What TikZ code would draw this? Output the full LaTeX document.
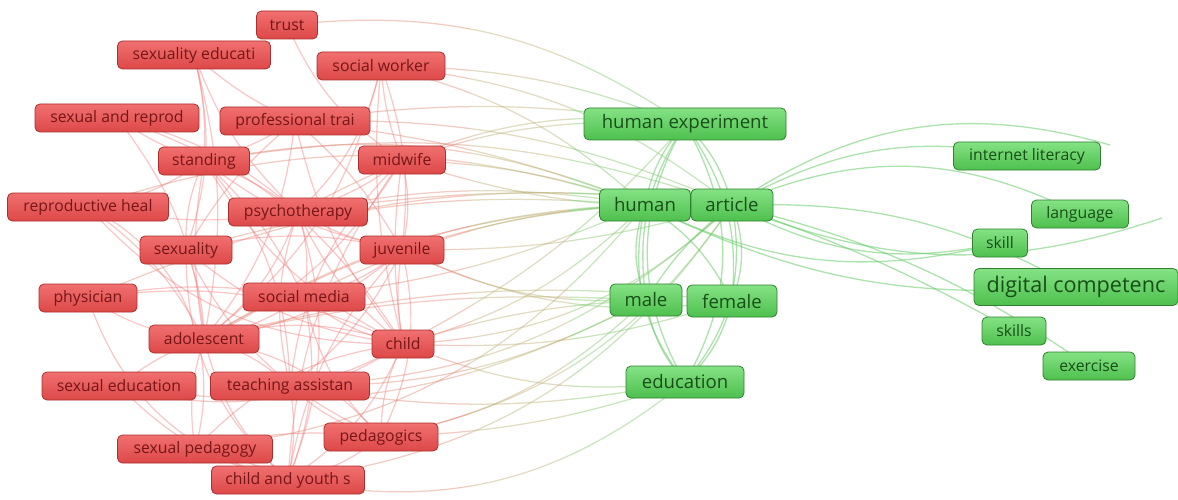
\documentclass[tikz,border=0pt]{standalone}
\usepackage{fontspec}
\setmainfont{Open Sans}
\usetikzlibrary{backgrounds}
\definecolor{redt}{RGB}{241,112,112}
\definecolor{redbo}{RGB}{221,72,72}
\definecolor{redb}{RGB}{172,46,46}
\definecolor{redtx}{RGB}{118,22,22}
\definecolor{grt}{RGB}{132,226,132}
\definecolor{grbo}{RGB}{78,192,78}
\definecolor{grb}{RGB}{48,128,48}
\definecolor{grtx}{RGB}{24,78,24}
\definecolor{rec}{RGB}{245,120,120}
\definecolor{gec}{RGB}{105,205,105}
\definecolor{mrc}{RGB}{222,135,112}
\definecolor{mmc}{RGB}{188,172,112}
\definecolor{mgc}{RGB}{135,200,112}
\tikzset{
  nbase/.style={line width=0.8pt, rounded corners=5pt, inner sep=0pt},
  rn/.style={nbase, draw=redb, top color=redt, bottom color=redbo, text=redtx,
     minimum height=28pt, font=\fontsize{15.8}{16}\selectfont},
  gn/.style={nbase, draw=grb, top color=grt, bottom color=grbo, text=grtx,
     minimum height=32pt, font=\fontsize{18.6}{19}\selectfont},
  gs/.style={nbase, draw=grb, top color=grt, bottom color=grbo, text=grtx,
     minimum height=28pt, font=\fontsize{15.8}{16}\selectfont},
  gb/.style={nbase, draw=grb, top color=grt, bottom color=grbo, text=grtx,
     minimum height=37pt, font=\fontsize{21.6}{22}\selectfont},
  re/.style={draw=rec, opacity=0.42, line width=1.2pt},
  ge/.style={draw=gec, opacity=0.55, line width=1.3pt},
  mre/.style={draw=mrc, opacity=0.42, line width=1.25pt},
  mme/.style={draw=mmc, opacity=0.42, line width=1.25pt},
  mge/.style={draw=mgc, opacity=0.45, line width=1.25pt},
}
\newcommand{\mixedges}[1]{%
\foreach \a/\b/\c in {trust/hexp/20, socw/hexp/10, socw/human/14, socw/article/16,
  proft/hexp/8, proft/article/12, proft/human/7, midw/human/8, midw/article/-10, midw/hexp/14,
  psych/human/10, psych/article/7, psych/hexp/16, stand/article/14, stand/human/16, sexu/human/10,
  juv/human/7, juv/article/-8, juv/male/-14, juv/female/-16, socm/article/14, socm/human/-8,
  adol/human/14, adol/article/16, adol/male/8, adol/female/10,
  child/human/-14, child/article/-20, child/male/7, child/female/-10, child/educ/-14, child/hexp/-10,
  teach/article/-20, teach/educ/-10, teach/male/-14, ped/article/-22, ped/male/-16, ped/educ/-8,
  cys/educ/-25, cys/article/-24, sexped/human/-22, sexedu/male/-18, rephe/human/18, phys/article/15}
  \draw[#1] (\a.center) to[bend left=\c] (\b.center);}
\begin{document}
\begin{tikzpicture}[x=1pt,y=-1pt]
\useasboundingbox (0,0) rectangle (1178,500);
% red cluster
\node[rn, minimum width=61pt] (trust) at (287,25) {trust};
\node[rn, minimum width=153pt] (sexed) at (194,55) {sexuality educati};
\node[rn, minimum width=128pt] (socw) at (381,66) {social worker};
\node[rn, minimum width=164pt] (sexrep) at (117,118) {sexual and reprod};
\node[rn, minimum width=150pt] (proft) at (295,121) {professional trai};
\node[rn, minimum width=91pt] (stand) at (204,161) {standing};
\node[rn, minimum width=87pt] (midw) at (402,160) {midwife};
\node[rn, minimum width=161pt] (rephe) at (88,207) {reproductive heal};
\node[rn, minimum width=139pt] (psych) at (298,212) {psychotherapy};
\node[rn, minimum width=92pt] (sexu) at (186,250) {sexuality};
\node[rn, minimum width=84pt] (juv) at (402,250) {juvenile};
\node[rn, minimum width=98pt] (phys) at (88,298) {physician};
\node[rn, minimum width=122pt] (socm) at (304,297) {social media};
\node[rn, minimum width=110pt] (adol) at (204,339) {adolescent};
\node[rn, minimum width=62pt] (child) at (403,344) {child};
\node[rn, minimum width=154pt] (sexedu) at (119,386) {sexual education};
\node[rn, minimum width=159pt] (teach) at (290,386) {teaching assistan};
\node[rn, minimum width=114pt] (ped) at (381,437) {pedagogics};
\node[rn, minimum width=155pt] (sexped) at (195,449) {sexual pedagogy};
\node[rn, minimum width=153pt] (cys) at (288,480) {child and youth s};
% green cluster
\node[gn, minimum width=202pt] (hexp) at (685,124) {human experiment};
\node[gn, minimum width=91pt] (human) at (645,205) {human};
\node[gn, minimum width=82pt] (article) at (732,205) {article};
\node[gn, minimum width=72pt] (male) at (646,300) {male};
\node[gn, minimum width=90pt] (female) at (732,301) {female};
\node[gn, minimum width=118pt] (educ) at (685,382) {education};
\node[gs, minimum width=147pt] (inet) at (1027,156) {internet literacy};
\node[gs, minimum width=97pt] (lang) at (1080,214) {language};
\node[gs, minimum width=55pt] (skill) at (1000,243) {skill};
\node[gb, minimum width=204pt] (digc) at (1076,287) {digital competenc};
\node[gs, minimum width=64pt] (skills) at (1014,331) {skills};
\node[gs, minimum width=92pt] (exer) at (1089,366) {exercise};
\coordinate (f1) at (1110,145);
\coordinate (f2) at (1162,218);
\begin{scope}[on background layer]
\fill[white] (0,0) rectangle (1178,500);
% red edges
\foreach \a/\b/\c in {trust/midw/-10, sexed/stand/5, sexed/proft/-5, sexed/psych/-8, sexed/sexu/10, sexed/adol/8,
  socw/midw/-5, socw/juv/8, socw/child/-6, socw/psych/10, socw/adol/12,
  sexrep/stand/-5, sexrep/psych/8, sexrep/adol/10, sexrep/child/12,
  proft/stand/5, proft/child/-8, proft/juv/6, proft/adol/10, proft/sexu/-6,
  stand/rephe/8, stand/adol/-6, stand/psych/5, stand/juv/-8, stand/child/-10, stand/socm/6, stand/sexu/-8, stand/teach/12,
  midw/child/-5, midw/juv/8, midw/adol/10, midw/teach/-12, midw/psych/6, midw/cys/-10,
  rephe/psych/-6, rephe/adol/8, rephe/child/-15, rephe/sexped/25,
  psych/child/-8, psych/adol/10, psych/juv/-6, psych/cys/12, psych/teach/-10, psych/socm/8,
  sexu/adol/6, sexu/child/-10, sexu/juv/8, sexu/cys/-15, sexu/ped/-12,
  juv/adol/10, juv/child/-6, juv/socm/8, juv/ped/12, juv/cys/-10, juv/teach/8,
  phys/adol/-8, phys/child/10, phys/cys/-18, phys/socm/6,
  socm/adol/6, socm/child/-8, socm/cys/10, socm/ped/-10,
  adol/child/10, adol/sexedu/-6, adol/teach/8, adol/cys/-10, adol/ped/12, adol/sexped/-8,
  child/teach/6, child/ped/-8, child/cys/10, child/sexped/-12, child/sexedu/15,
  sexedu/cys/-10, teach/cys/6, teach/ped/-8, ped/cys/8, ped/sexped/-6, sexped/cys/5}
  {\pgfmathsetmacro\d{1.6*\c}
  \draw[re] (\a.center) to[bend left=\d] (\b.center);}
% mixed edges: reddish near the red cluster, greenish near the green one
\begin{scope}
  \clip (0,0) rectangle (470,500);
  \mixedges{mre}
\end{scope}
\begin{scope}
  \clip (470,0) rectangle (570,500);
  \mixedges{mme}
\end{scope}
\begin{scope}
  \clip (570,0) rectangle (1178,500);
  \mixedges{mge}
\end{scope}
% green edges
\foreach \a/\b/\c in {hexp/human/-15, hexp/article/15, hexp/male/-20, hexp/female/20, hexp/educ/-30, hexp/educ/30,
  human/male/-20, human/female/15, human/educ/-25, article/male/-10, article/female/20, article/educ/25,
  male/educ/-15, female/educ/15,
  article/inet/20, article/f1/25, article/lang/25, article/digc/15, article/skill/-20, article/exer/10,
  article/skills/5, human/digc/-15, human/skill/-20, article/f2/-20}
  \draw[ge] (\a.center) to[bend left=\c] (\b.center);
\end{scope}
\end{tikzpicture}
\end{document}
